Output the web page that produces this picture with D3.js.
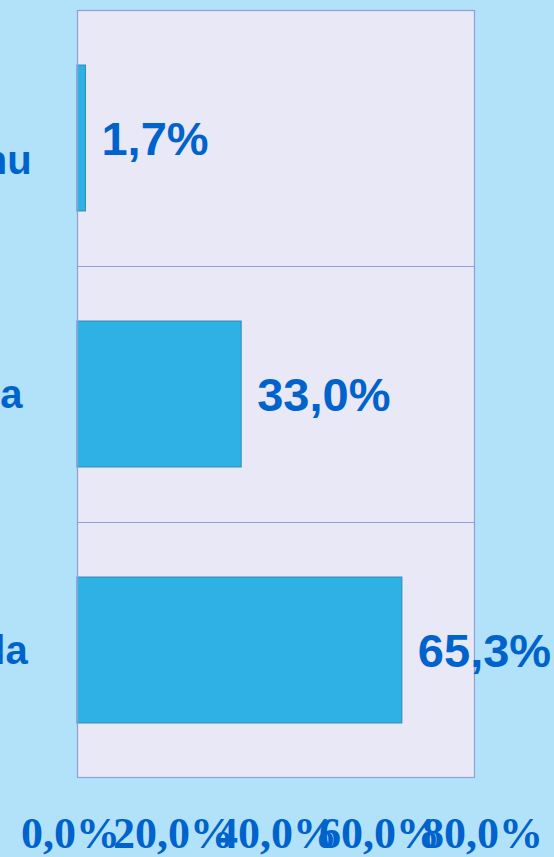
<!DOCTYPE html>
<html>
<head>
<meta charset="utf-8">
<script src="https://cdn.jsdelivr.net/npm/d3@7"></script>
<style>
  html, body { margin: 0; padding: 0; background: #b2e2f9; }
  svg { display: block; }
</style>
</head>
<body>
<div id="chart"></div>
<script>
// categories top to bottom; labels are centred off the left edge, so only their tails show
const categories = ["Saya|Tidak Tahu", "Tidak Ada", "Tidak Rela"];
const percentages = [1.7, 33.0, 65.3];
const tickValues = [0, 20, 40, 60, 80];

const width = 554, height = 857;
const plot = { left: 77, right: 475, top: 10, bottom: 778 };
const labelCenterX = -72;

const textColor = "#0063cc";
const gridColor = "#8e9fdc";

const locale = d3.formatLocale({ decimal: ",", thousands: ".", grouping: [3], currency: ["", ""] });
const fmt = locale.format(".1f");

const svg = d3.select("#chart").append("svg")
    .attr("width", width)
    .attr("height", height);

svg.append("rect")
    .attr("width", width)
    .attr("height", height)
    .attr("fill", "#b2e2f9");

const x = d3.scaleLinear()
    .domain([0, 80])
    .range([plot.left, plot.right]);

// one row per category (for the separators)
const rows = d3.scaleBand()
    .domain(categories)
    .range([plot.top, plot.bottom])
    .padding(0);

// bars sit in the middle of each row
const y = d3.scaleBand()
    .domain(categories)
    .range([plot.top, plot.bottom])
    .paddingInner(0.43)
    .paddingOuter(0.215);

svg.append("rect")
    .attr("x", plot.left)
    .attr("y", plot.top)
    .attr("width", plot.right - plot.left)
    .attr("height", plot.bottom - plot.top)
    .attr("fill", "#e8e8f6");

svg.selectAll(".sep")
    .data(categories.slice(1))
    .enter().append("line")
    .attr("class", "sep")
    .attr("x1", plot.left)
    .attr("x2", plot.right)
    .attr("y1", d => rows(d) + 0.5)
    .attr("y2", d => rows(d) + 0.5)
    .attr("stroke", gridColor)
    .attr("stroke-width", 1);

svg.selectAll(".bar")
    .data(percentages)
    .enter().append("rect")
    .attr("class", "bar")
    .attr("x", x(0))
    .attr("y", (d, i) => y(categories[i]))
    .attr("width", d => x(d) - x(0))
    .attr("height", y.bandwidth())
    .attr("fill", "#2fb1e5")
    .attr("stroke", "#2b8db5")
    .attr("stroke-width", 1);

// plot frame
svg.append("rect")
    .attr("x", plot.left + 0.5)
    .attr("y", plot.top + 0.5)
    .attr("width", plot.right - plot.left - 1)
    .attr("height", plot.bottom - plot.top - 1)
    .attr("fill", "none")
    .attr("stroke", gridColor)
    .attr("stroke-width", 1.2);

// value labels
svg.selectAll(".val")
    .data(percentages)
    .enter().append("text")
    .attr("class", "val")
    .attr("x", d => x(d) + 16)
    .attr("y", (d, i) => y(categories[i]) + y.bandwidth() / 2)
    .attr("dy", "0.36em")
    .attr("fill", textColor)
    .style("font-family", "'Liberation Sans', Arial, sans-serif")
    .style("font-weight", "bold")
    .style("font-size", "47px")
    .text(d => fmt(d) + "%");

// category labels, wrapped on "|" and centred left of the window
const cat = svg.selectAll(".cat")
    .data(categories)
    .enter().append("text")
    .attr("class", "cat")
    .attr("y", d => y(d) + y.bandwidth() / 2)
    .attr("text-anchor", "middle")
    .attr("fill", textColor)
    .style("font-family", "'Liberation Sans', Arial, sans-serif")
    .style("font-weight", "bold")
    .style("font-size", "40px");

cat.each(function (d) {
    const lines = d.split("|");
    const t = d3.select(this);
    lines.forEach((line, i) => {
        t.append("tspan")
            .attr("x", labelCenterX)
            .attr("y", t.attr("y"))
            .attr("dy", ((i - (lines.length - 1) / 2) * 1.1 + 0.36) + "em")
            .text(line);
    });
});

// x axis: labels only, spread a little wider than the plot
const xLabels = x.copy().range([70, 482]);
const xAxis = svg.append("g")
    .attr("transform", `translate(0,${plot.bottom})`)
    .call(d3.axisBottom(xLabels).tickValues(tickValues).tickSize(0).tickFormat(d => fmt(d) + "%"));

xAxis.select(".domain").remove();
xAxis.selectAll("text")
    .attr("y", 70)
    .attr("dy", 0)
    .attr("fill", textColor)
    .style("font-family", "'Liberation Serif', 'Times New Roman', serif")
    .style("font-weight", "bold")
    .style("font-size", "44px");
</script>
</body>
</html>
